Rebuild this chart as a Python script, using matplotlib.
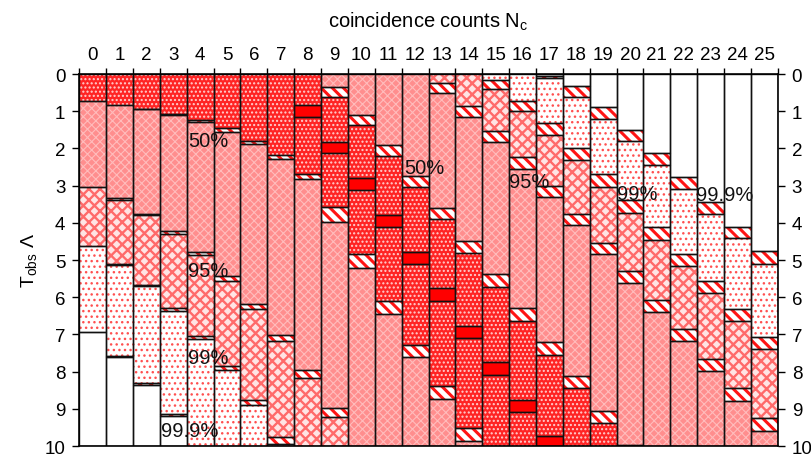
import matplotlib
matplotlib.use('Agg')
import matplotlib.pyplot as plt

plt.rcParams['font.family'] = ['Liberation Sans', 'DejaVu Sans']
plt.rcParams['mathtext.fontset'] = 'custom'
plt.rcParams['mathtext.rm'] = 'Liberation Sans'
plt.rcParams['mathtext.it'] = 'Liberation Sans:italic'

# ---------------- data ----------------
counts = list(range(26))
cl_labels = ['50%', '95%', '99%', '99.9%']
LMAX = 10.0
Z = (0.0, 0.0)      # region reaches Lambda = 0
X = (10.0, 10.0)    # region edge beyond Lambda = 10

# upper (small-Lambda) edge band of each acceptance region
top50 = [Z]*9 + [(0.36, 0.63), (1.10, 1.38), (1.91, 2.20), (2.73, 3.04), (3.60, 3.91),
                 (4.48, 4.80), (5.38, 5.72), (6.30, 6.63), (7.21, 7.55), (8.13, 8.45),
                 (9.05, 9.37), (9.96, 10.0)] + [X]*5
top95 = [Z]*13 + [(0.25, 0.52), (0.85, 1.16), (1.52, 1.84), (2.24, 2.54), (3.00, 3.31),
                  (3.76, 4.06), (4.53, 4.85), (5.29, 5.61), (6.08, 6.41), (6.85, 7.18),
                  (7.66, 7.99), (8.45, 8.78), (9.26, 9.59)]
top99 = [Z]*15 + [(0.15, 0.40), (0.72, 1.00), (1.33, 1.65), (2.00, 2.32), (2.69, 3.04),
                  (3.40, 3.73), (4.12, 4.45), (4.84, 5.17), (5.57, 5.90), (6.32, 6.64),
                  (7.06, 7.38)]
top999 = [Z]*17 + [(0.05, 0.12), (0.33, 0.62), (0.90, 1.22), (1.50, 1.81), (2.13, 2.45),
                   (2.78, 3.10), (3.43, 3.75), (4.10, 4.42), (4.77, 5.10)]

# lower (large-Lambda) edge band of each acceptance region
bot50 = [(0.72, 0.72), (0.82, 0.82), (0.93, 0.95), (1.07, 1.11), (1.23, 1.30),
         (1.46, 1.55), (1.79, 1.89), (2.19, 2.29), (2.69, 2.82), (3.57, 3.97),
         (4.84, 5.22), (6.09, 6.45), (7.28, 7.60), (8.40, 8.74), (9.52, 9.86)] + [X]*11
bot95 = [(3.03, 3.03), (3.34, 3.38), (3.76, 3.78), (4.22, 4.29), (4.79, 4.87),
         (5.44, 5.56), (6.19, 6.33), (7.02, 7.18), (7.96, 8.16), (8.97, 9.22)] + [X]*16
bot99 = [(4.63, 4.63), (5.10, 5.14), (5.67, 5.71), (6.30, 6.37), (7.03, 7.12),
         (7.84, 7.96), (8.75, 8.90), (9.77, 9.94)] + [X]*18
bot999 = [(6.93, 6.93), (7.57, 7.61), (8.31, 8.35), (9.13, 9.19)] + [X]*22

# most probable Lambda band (solid)
mode = [None]*8 + [(0.82, 1.16), (1.82, 2.13), (2.80, 3.12), (3.79, 4.12), (4.78, 5.11),
                   (5.76, 6.10), (6.77, 7.10), (7.75, 8.08), (8.75, 9.08), (9.74, 10.0)] + [None]*8

# label positions (count, Lambda)
label_text = ['50%', '95%', '99%', '99.9%', '50%', '95%', '99%', '99.9%']
label_x = [3.54, 3.54, 3.54, 2.54, 11.6, 15.5, 19.51, 22.46]
label_y = [1.78, 5.29, 7.63, 9.59, 2.50, 2.90, 3.20, 3.25]

tops = [top50, top95, top99, top999]
bots = [bot50, bot95, bot99, bot999]

# ---------------- segment building ----------------
def column_segments(i):
    edges = {0.0, LMAX}
    bands = []
    for t, b in zip(tops, bots):
        for (a, c) in (t[i], b[i]):
            edges.add(a); edges.add(c)
            if c > a:
                bands.append((a, c))
    if mode[i]:
        edges.update(mode[i])
    E = sorted(e for e in edges if 0.0 <= e <= LMAX)
    segs = []
    for lo, hi in zip(E[:-1], E[1:]):
        if hi - lo < 1e-9:
            continue
        m = 0.5 * (lo + hi)
        if any(a <= m <= c for a, c in bands):
            kind = 'band'
        elif mode[i] and mode[i][0] <= m <= mode[i][1]:
            kind = 'mode'
        else:
            kind = 'out'
            for k in range(4):
                if tops[k][i][1] <= m <= bots[k][i][0]:
                    kind = k
                    break
        if segs and segs[-1][2] == kind:
            segs[-1] = (segs[-1][0], hi, kind)
        else:
            segs.append((lo, hi, kind))
    return segs

styles = {
    0: dict(face='#ff2424', hatch='....', hc='#ffd0d0', hlw=1.0),
    1: dict(face='#ff8e8e', hatch='xxxx', hc='#ffbcbc', hlw=0.8),
    2: dict(face='#ffe4e4', hatch='xxx', hc='#ff6a6a', hlw=1.7),
    3: dict(face='#ffffff', hatch='...', hc='#ff5050', hlw=1.0),
    'band': dict(face='#ffffff', hatch='\\\\\\', hc='#ff1414', hlw=2.2),
    'mode': dict(face='#ff0000', hatch=None, hc='#ff0000', hlw=1.0),
    'out': dict(face='#ffffff', hatch=None, hc='#ffffff', hlw=1.0),
}

groups = {k: ([], [], []) for k in styles}
for i in counts:
    for lo, hi, kind in column_segments(i):
        g = groups[kind]
        g[0].append(i); g[1].append(hi - lo); g[2].append(lo)

fig = plt.figure(figsize=(8.11, 4.56), dpi=100)
ax = fig.add_axes([0.0978, 0.0197, 0.8612, 0.8158])

for kind, (xs, hs, bs) in groups.items():
    if not xs:
        continue
    st = styles[kind]
    with plt.rc_context({'hatch.linewidth': st['hlw']}):
        bars = ax.bar(xs, hs, bottom=bs, width=1.0, color=st['face'],
                      edgecolor=st['hc'], hatch=st['hatch'], linewidth=0, zorder=1)
        for p in bars:
            if hasattr(p, 'set_hatch_linewidth'):
                p.set_hatch_linewidth(st['hlw'])
    ax.bar(xs, hs, bottom=bs, width=1.0, fill=False, edgecolor='#111111',
           linewidth=1.0, zorder=2)

for t, x, y in zip(label_text, label_x, label_y):
    ax.text(x, y, t, fontsize=14.5, ha='left', va='center', color='#111111', zorder=5)

ax.set_xlim(-0.5, 25.5)
ax.set_ylim(LMAX, 0)

ax.xaxis.tick_top()
ax.set_xticks(counts)
ax.set_xticks([c - 0.5 for c in counts] + [25.5], minor=True)
ax.tick_params(axis='x', which='major', length=0, pad=8, labelsize=13.5, top=True, bottom=False)
ax.tick_params(axis='x', which='minor', length=4, width=1, direction='out', top=True, bottom=False)
ax.set_yticks(range(0, 11))
ax.tick_params(axis='y', which='major', length=5, width=1, direction='out', pad=5,
               labelsize=13.5, left=True, right=True, labelleft=True, labelright=True)
ax.xaxis.set_label_position('top')
ax.set_xlabel('coincidence counts $\\mathregular{N_c}$', fontsize=14.5, labelpad=14)
ax.set_ylabel('$\\mathregular{T_{obs}}$ $\\mathregular{\\Lambda}$', fontsize=14, labelpad=4)
for s in ax.spines.values():
    s.set_linewidth(1.2)
    s.set_zorder(6)

fig.savefig('out.png', dpi=100)
